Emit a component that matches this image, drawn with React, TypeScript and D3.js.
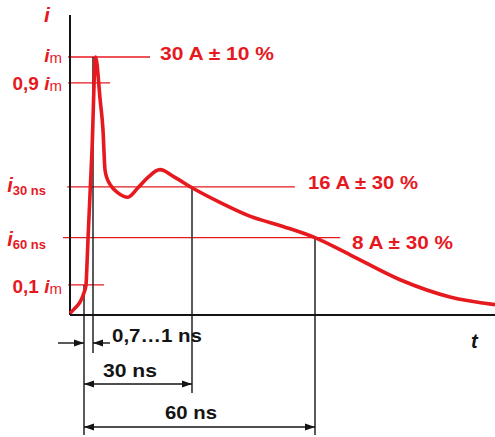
import React from "react";
import * as d3 from "d3";

// Time axis (ns) is not drawn to scale in the original: piecewise mapping
const timeBreaks = [-3, 0, 1, 30, 60, 100];
// Current waveform (t in ns, i in A on the drawing's scale)
const curveT = [-3, -1.93, -0.86, 0, 0.22, 0.33, 0.44, 0.89, 1.75, 3.1, 3.93, 4.51, 5.1, 5.98, 8.32, 11.25, 14.18, 17.1, 20.6, 25.0, 30, 36.8, 44.1, 52.2, 60, 67.8, 78.9, 90, 100];
const curveI = [0.2, 0.8, 1.5, 2.6, 3.5, 5.8, 8.7, 19.2, 30, 25.0, 21.5, 16.9, 15.9, 15.2, 14.2, 13.7, 14.8, 16.0, 16.9, 16.0, 14.8, 13.1, 11.5, 10.3, 9.0, 7.0, 4.1, 2.1, 1.2];

// Reference levels
const levelValues = [30, 27, 14.9, 9.0, 3.5];
const levelEnds = [17.7, 6.0, 55.1, 65.6, 4.2];
const levelStarts = [-3.4, -3.4, -3.6, -4.5, -3.4];

const rightLabels = ["30 A ± 10 %", "16 A ± 30 %", "8 A ± 30 %"];
const spanLabels = ["0,7…1 ns", "30 ns", "60 ns"];
const markerTimes = [0, 1, 30, 60];
const markerLevels = [3.5, 30, 14.9, 9.0];

const RED = "#e6191f";
const INK = "#141414";

export default function App() {
  const W = 495, H = 437;
  const x = d3.scaleLinear().domain(timeBreaks).range([70, 84, 93, 192, 315, 495]);
  const y = d3.scaleLinear().domain([0, 30]).range([315, 57]);
  const pts = curveT.map((t, k) => [x(t), y(curveI[k])] as [number, number]);
  const line = d3.line().curve(d3.curveMonotoneX)(pts) as string;

  const markerBottoms = [435, 353, 393, 435];
  const bold = { fontFamily: "'Liberation Sans', Arial, sans-serif", fontWeight: 700 } as const;

  const arrowHead = (xt: number, yy: number, dir: number, key: string) => (
    <path key={key} d={`M${xt},${yy} L${xt - dir * 10},${yy - 3.5} L${xt - dir * 10},${yy + 3.5} Z`} fill={INK} />
  );

  const rightLabelX = [160, 308, 352];
  const rightLabelY = [60, 189, 249];
  const rightLabelW = [114, 110, 101];

  return (
    <svg width={W} height={H} style={{ position: "absolute", left: 0, top: 0, background: "#fff" }}>
      {/* reference level lines */}
      {levelValues.map((v, k) => (
        <line key={"lv" + k} x1={x(levelStarts[k])} x2={x(levelEnds[k])} y1={y(v)} y2={y(v)} stroke={RED} strokeWidth={1.3} />
      ))}
      {/* marker verticals */}
      {markerTimes.map((t, k) => (
        <line key={"mk" + k} x1={x(t)} x2={x(t)} y1={y(markerLevels[k])} y2={markerBottoms[k]} stroke={INK} strokeWidth={1.4} />
      ))}
      {/* axes */}
      <line x1={70} x2={70} y1={15} y2={y(0)} stroke={INK} strokeWidth={2} />
      <line x1={70} x2={495} y1={y(0)} y2={y(0)} stroke={INK} strokeWidth={2} />
      {/* curve */}
      <path d={line} fill="none" stroke={RED} strokeWidth={3.6} strokeLinejoin="round" />

      {/* axis titles */}
      <text x={44} y={22} fill={RED} style={{ ...bold, fontStyle: "italic", fontSize: 21 }}>i</text>
      <text x={471} y={348} fill={INK} style={{ ...bold, fontStyle: "italic", fontSize: 20 }}>t</text>

      {/* left labels */}
      <text x={62} y={62} textAnchor="end" fill={RED} style={{ ...bold, fontSize: 19 }}>
        <tspan fontStyle="italic">i</tspan><tspan fontWeight={400} fontSize={15} dy={1}>m</tspan>
      </text>
      <text x={62} y={90} textAnchor="end" fill={RED} style={{ ...bold, fontSize: 19 }}>
        0,9 <tspan fontStyle="italic">i</tspan><tspan fontWeight={400} fontSize={15} dy={1}>m</tspan>
      </text>
      <text x={46} y={192} textAnchor="end" fill={RED} style={{ ...bold, fontSize: 20 }}>
        <tspan fontStyle="italic">i</tspan><tspan fontSize={13} dy={3}>30 ns</tspan>
      </text>
      <text x={46} y={246} textAnchor="end" fill={RED} style={{ ...bold, fontSize: 20 }}>
        <tspan fontStyle="italic">i</tspan><tspan fontSize={13} dy={3}>60 ns</tspan>
      </text>
      <text x={62} y={293} textAnchor="end" fill={RED} style={{ ...bold, fontSize: 19 }}>
        0,1 <tspan fontStyle="italic">i</tspan><tspan fontWeight={400} fontSize={15} dy={1}>m</tspan>
      </text>

      {/* right labels */}
      {rightLabels.map((s, k) => (
        <text key={"rl" + k} x={rightLabelX[k]} y={rightLabelY[k]} fill={RED} textLength={rightLabelW[k]} lengthAdjust="spacingAndGlyphs" style={{ ...bold, fontSize: 19 }}>{s}</text>
      ))}

      {/* span annotations */}
      <line x1={58} x2={x(0)} y1={343} y2={343} stroke={INK} strokeWidth={1.4} />
      {arrowHead(x(0), 343, 1, "a1")}
      <line x1={x(1)} x2={110} y1={343} y2={343} stroke={INK} strokeWidth={1.4} />
      {arrowHead(x(1), 343, -1, "a2")}
      <text x={112} y={342} fill={INK} textLength={90} lengthAdjust="spacingAndGlyphs" style={{ ...bold, fontSize: 19 }}>{spanLabels[0]}</text>

      <line x1={x(0)} x2={x(30)} y1={384} y2={384} stroke={INK} strokeWidth={1.4} />
      {arrowHead(x(0), 384, -1, "a3")}
      {arrowHead(x(30), 384, 1, "a4")}
      <text x={103} y={377} fill={INK} textLength={54} lengthAdjust="spacingAndGlyphs" style={{ ...bold, fontSize: 19 }}>{spanLabels[1]}</text>

      <line x1={x(0)} x2={x(60)} y1={427} y2={427} stroke={INK} strokeWidth={1.4} />
      {arrowHead(x(0), 427, -1, "a5")}
      {arrowHead(x(60), 427, 1, "a6")}
      <text x={165} y={419} fill={INK} textLength={52} lengthAdjust="spacingAndGlyphs" style={{ ...bold, fontSize: 19 }}>{spanLabels[2]}</text>
    </svg>
  );
}
